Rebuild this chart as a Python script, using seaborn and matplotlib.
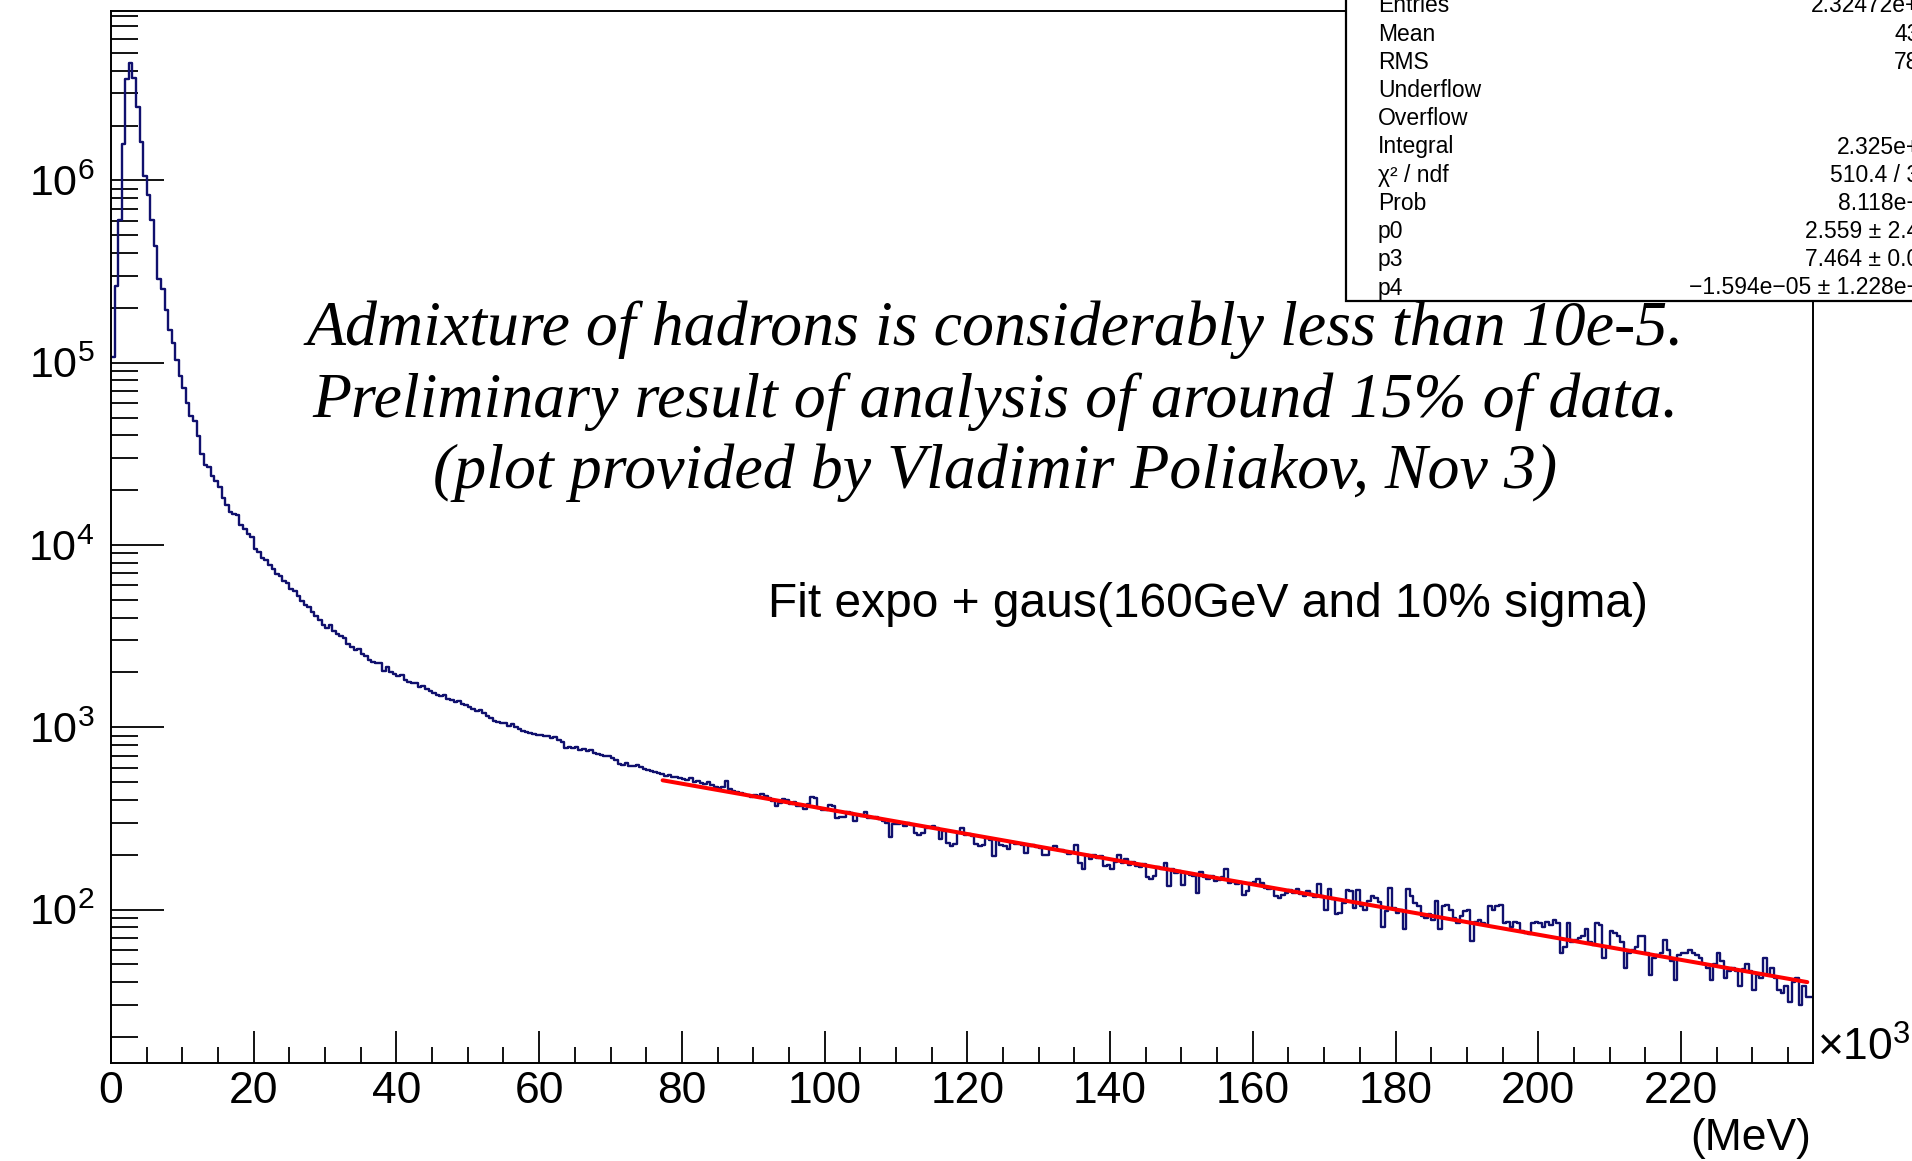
import numpy as np
import pandas as pd
import matplotlib
matplotlib.use('Agg')
import matplotlib.pyplot as plt
from matplotlib.patches import Rectangle
from matplotlib.ticker import MultipleLocator, LogLocator, FixedLocator
import seaborn as sns

# histogram binning (x axis in units of 10^3 MeV)
bin_width = 0.5
x_start = 0.0
x_end = 238.5

# bin contents: the peak, the falling part, the fitted tail
counts_peak = [107000, 263000, 603000, 1580000, 3590000, 4430000, 3630000, 2540000, 1630000, 1060000,
               832000, 603000, 437000, 288000, 254000, 195000, 151000, 129000, 103500, 85000]

counts_mid = [72400, 60300, 51300, 47900, 39800, 31600, 27500, 26900, 24000, 22400,
              20900, 18200, 16600, 15100, 14800, 14600, 12900, 12300, 11500, 11000,
              9550, 9120, 8510, 8320, 7760, 7410, 6920, 6760, 6310, 6170,
              5750, 5620, 5250, 4900, 4680, 4570, 4270, 4070, 3890, 3630,
              3510, 3630, 3390, 3240, 3160, 3090, 2880, 2750, 2660, 2690,
              2510, 2450, 2340, 2290, 2240, 2260, 2040, 2140, 2000, 1970,
              1910, 1930, 1820, 1780, 1740, 1760, 1660, 1680, 1620, 1580,
              1550, 1510, 1480, 1510, 1430, 1410, 1380, 1400, 1350, 1330,
              1290, 1260, 1230, 1240, 1200, 1150, 1120, 1080, 1070, 1050,
              1060, 1020, 1040, 1000, 977, 955, 944, 933, 923, 912,
              902, 891, 895, 871, 881, 851, 832, 767, 776, 770,
              780, 750, 759, 741, 752, 724, 716, 708, 692, 700,
              676, 661, 631, 624, 633, 617, 610, 618, 603, 589,
              582, 575, 569, 562, 556, 543, 550, 531, 537, 525,
              519, 513, 528, 501, 510, 495, 490, 498, 484, 468,
              462, 470, 505, 457, 447, 442, 437, 432, 427, 417]

counts_tail = [425, 418, 430, 420, 410, 392, 372, 385, 405, 398,
               380, 388, 372, 368, 356, 378, 415, 408, 362, 352,
               350, 375, 370, 318, 320, 322, 344, 338, 305, 330,
               325, 345, 318, 316, 322, 312, 308, 300, 250, 296,
               294, 300, 286, 298, 292, 262, 258, 264, 280, 283,
               288, 282, 245, 270, 232, 222, 230, 262, 280, 258,
               260, 252, 228, 222, 225, 246, 242, 196, 240, 226,
               222, 215, 234, 230, 228, 226, 205, 222, 227, 221,
               218, 200, 198, 214, 222, 211, 212, 208, 203, 206,
               226, 180, 168, 198, 190, 198, 192, 196, 174, 175,
               168, 182, 198, 181, 190, 176, 182, 174, 172, 178,
               150, 148, 152, 171, 166, 180, 134, 168, 158, 162,
               137, 158, 155, 152, 124, 160, 150, 148, 152, 144,
               146, 150, 166, 140, 141, 138, 142, 120, 126, 140,
               142, 148, 140, 132, 130, 131, 118, 116, 120, 124,
               128, 124, 130, 122, 118, 126, 122, 117, 138, 118,
               100, 130, 114, 94, 96, 108, 128, 126, 102, 128,
               104, 100, 112, 118, 116, 110, 80, 98, 132, 102,
               96, 100, 78, 130, 118, 108, 104, 92, 90, 94,
               88, 112, 78, 104, 106, 100, 90, 84, 92, 98,
               100, 67, 86, 88, 84, 82, 104, 100, 104, 106,
               84, 86, 80, 86, 84, 76, 74, 73, 84, 86,
               84, 80, 86, 82, 88, 84, 58, 62, 84, 66,
               68, 70, 72, 78, 66, 64, 84, 82, 54, 62,
               76, 74, 72, 66, 48, 58, 60, 62, 72, 72,
               58, 44, 54, 56, 58, 68, 60, 52, 41, 56,
               58, 58, 60, 58, 56, 54, 50, 48, 41, 50,
               58, 52, 42, 46, 48, 46, 38, 47, 50, 46,
               36, 44, 42, 54, 44, 48, 42, 36, 35, 38,
               31, 40, 42, 30, 38, 33, 33]

# red fit curve (expo), end points
fit_x = [77.3, 237.7]
fit_y = [512, 40]

x_major = [0, 20, 40, 60, 80, 100, 120, 140, 160, 180, 200, 220]
y_major = [1e2, 1e3, 1e4, 1e5, 1e6]

stats_names = ["Entries", "Mean", "RMS", "Underflow", "Overflow", "Integral",
               "χ² / ndf", "Prob", "p0", "p3", "p4"]
stats_values = ["2.32472e+07", "4326", "7815", "0", "0", "2.325e+07",
                "510.4 / 317", "8.118e\u221207", "2.559 ± 2.417", "7.464 ± 0.012",
                "\u22121.594e\u221205 ± 1.228e\u221207"]

note_lines = ["Admixture of hadrons is considerably less than 10e-5.",
              "Preliminary result of analysis of around 15% of data.",
              "(plot provided by Vladimir Poliakov, Nov 3)"]
fit_note = "Fit expo + gaus(160GeV and 10% sigma)"

counts = counts_peak + counts_mid + counts_tail
lo = x_start + bin_width * np.arange(len(counts))
edges = list(np.append(lo, lo[-1] + bin_width))
df = pd.DataFrame({"center": lo + bin_width / 2, "count": counts})

sns.set_theme(style="ticks")
plt.rcParams['font.family'] = ['Liberation Sans', 'DejaVu Sans']
plt.rcParams['mathtext.fontset'] = 'custom'
plt.rcParams['mathtext.rm'] = 'Liberation Sans'
plt.rcParams['mathtext.it'] = 'Liberation Sans:italic'
for key in ['text.color', 'axes.labelcolor', 'xtick.color', 'ytick.color', 'axes.edgecolor']:
    plt.rcParams[key] = 'black'

W, H = 1912, 1161
fig = plt.figure(figsize=(W / 100, H / 100), dpi=100)
ax = fig.add_axes([111 / W, 1 - 1063 / H, (1813 - 111) / W, (1063 - 11) / H])

sns.histplot(data=df, x="center", weights="count", bins=edges, element="step",
             fill=False, color="#10106e", linewidth=1.7, ax=ax)
ax.set_yscale('log')
sns.lineplot(x=fit_x, y=fit_y, color="#ff0000", linewidth=2.9, ax=ax)

ax.set_xlim(x_start, x_end)
ax.set_ylim(14.4, 8.5e6)
ax.set_xlabel("")
ax.set_ylabel("")

ax.xaxis.set_major_locator(FixedLocator(x_major))
ax.xaxis.set_minor_locator(MultipleLocator(5))
ax.yaxis.set_major_locator(FixedLocator(y_major))
ax.yaxis.set_minor_locator(LogLocator(base=10, subs=np.arange(2, 10)))

for s in ax.spines.values():
    s.set_linewidth(1.4)
    s.set_color("black")
ax.tick_params(which='both', direction='in', top=False, right=False, width=1.3,
               color='black', labelcolor='black')
ax.tick_params(axis='x', which='major', length=23, pad=6, labelsize=32)
ax.tick_params(axis='x', which='minor', length=11.5)
ax.tick_params(axis='y', which='major', length=38, pad=12, labelsize=31)
ax.tick_params(axis='y', which='minor', length=19.5)


def fx(px):
    return px / W


def fy(py):
    return 1 - py / H


# axis multiplier and unit
fig.text(fx(1817), fy(1061), "×$\\mathdefault{10^{3}}$", fontsize=32, ha='left', va='baseline',
         color='black')
fig.text(fx(1811), fy(1150), "(MeV)", fontsize=32, ha='right', va='baseline', color='black')

# annotations
for i, line in enumerate(note_lines):
    fig.text(fx(995), fy(345 + 71.5 * i), line, fontsize=46, ha='center', va='baseline',
             family='Liberation Serif', style='italic', color='black')
fig.text(fx(768), fy(617), fit_note, fontsize=34.5, ha='left', va='baseline', color='black')

# stats box (runs off the top right corner)
fig.add_artist(Rectangle((fx(1346), fy(301)), 0.4, 0.4, transform=fig.transFigure,
                         facecolor='white', edgecolor='black', linewidth=1.6, zorder=5))
for i, (name, val) in enumerate(zip(stats_names, stats_values)):
    y = fy(6 + 28.2 * i)
    fig.text(fx(1378), y, name, fontsize=16.5, ha='left', va='center', zorder=6, color='black')
    fig.text(fx(1945), y, val, fontsize=16.5, ha='right', va='center', zorder=6, color='black')

fig.savefig("out.png", dpi=100)
